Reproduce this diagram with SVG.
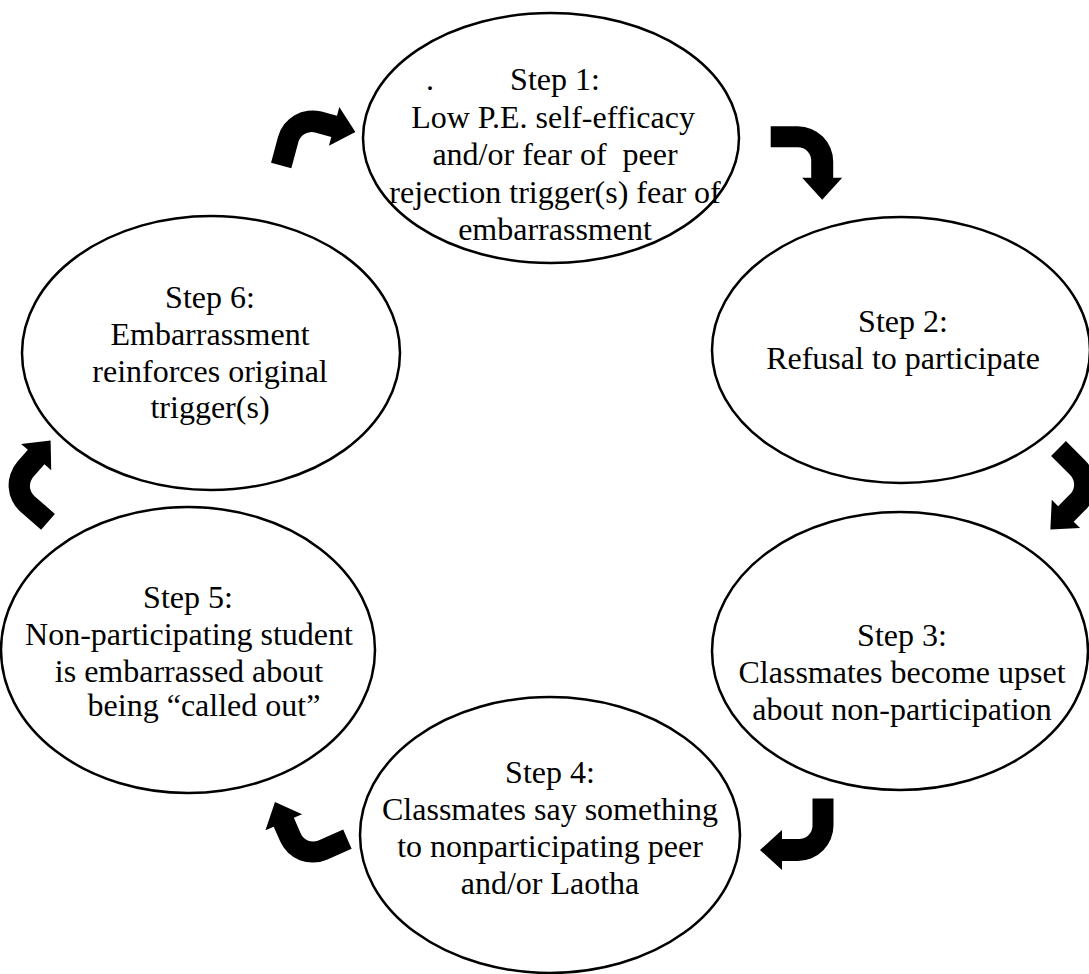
<svg xmlns="http://www.w3.org/2000/svg" width="1089" height="974" viewBox="0 0 1089 974">
<style>
.node ellipse{fill:#fff;stroke:#000;stroke-width:2.5}
.node text{font-family:"Liberation Serif","Times New Roman",serif;font-size:32px;fill:#000;text-anchor:middle}
.arrow{fill:#000;stroke:none}
</style>
<defs>
<path id="bent" d="M0,-10.5 L27,-10.5 A35.5,35.5 0 0 1 62.5,25 L62.5,41 L71.5,41 L51.5,63 L31.5,41 L40.5,41 L40.5,25 A13.5,13.5 0 0 0 27,10.5 L0,10.5 Z"/>
</defs>
<rect width="1089" height="974" fill="#fff"/>
<g id="step1" class="node">
<ellipse cx="551" cy="138" rx="188" ry="125"/>
<text x="430" y="90">.</text>
<text x="555" y="90">Step 1:</text>
<text x="553" y="127.5">Low P.E. self-efficacy</text>
<text x="555" y="165" xml:space="preserve">and/or fear of  peer</text>
<text x="555" y="202.5">rejection trigger(s) fear of</text>
<text x="555" y="240">embarrassment</text>
</g>
<g id="step2" class="node">
<ellipse cx="901" cy="350" rx="189" ry="133"/>
<text x="903" y="332">Step 2:</text>
<text x="903" y="369">Refusal to participate</text>
</g>
<g id="step3" class="node">
<ellipse cx="900" cy="651" rx="188" ry="139"/>
<text x="902" y="646">Step 3:</text>
<text x="902" y="683">Classmates become upset</text>
<text x="902" y="720">about non-participation</text>
</g>
<g id="step4" class="node">
<ellipse cx="550" cy="835" rx="190" ry="138"/>
<text x="550" y="783">Step 4:</text>
<text x="550" y="820">Classmates say something</text>
<text x="550" y="857">to nonparticipating peer</text>
<text x="550" y="894">and/or Laotha</text>
</g>
<g id="step5" class="node">
<ellipse cx="188" cy="650" rx="187" ry="143"/>
<text x="188" y="608">Step 5:</text>
<text x="189" y="645">Non-participating student</text>
<text x="189" y="682">is embarrassed about</text>
<text x="204" y="716">being “called out”</text>
</g>
<g id="step6" class="node">
<ellipse cx="211" cy="353" rx="189" ry="137"/>
<text x="210" y="308">Step 6:</text>
<text x="210" y="345">Embarrassment</text>
<text x="210" y="382">reinforces original</text>
<text x="210" y="418">trigger(s)</text>
</g>
<g id="connectors" class="arrow">
<use href="#bent" transform="translate(281.2,165.5) rotate(-75)"/>
<use href="#bent" transform="translate(770.7,136.7)"/>
<use href="#bent" transform="translate(1058.5,448.5) rotate(45)"/>
<use href="#bent" transform="translate(823,798.5) rotate(90)"/>
<use href="#bent" transform="translate(347.4,839.2) rotate(156.4)"/>
<use href="#bent" transform="translate(48,521.8) rotate(-138.9)"/>
</g>
</svg>
